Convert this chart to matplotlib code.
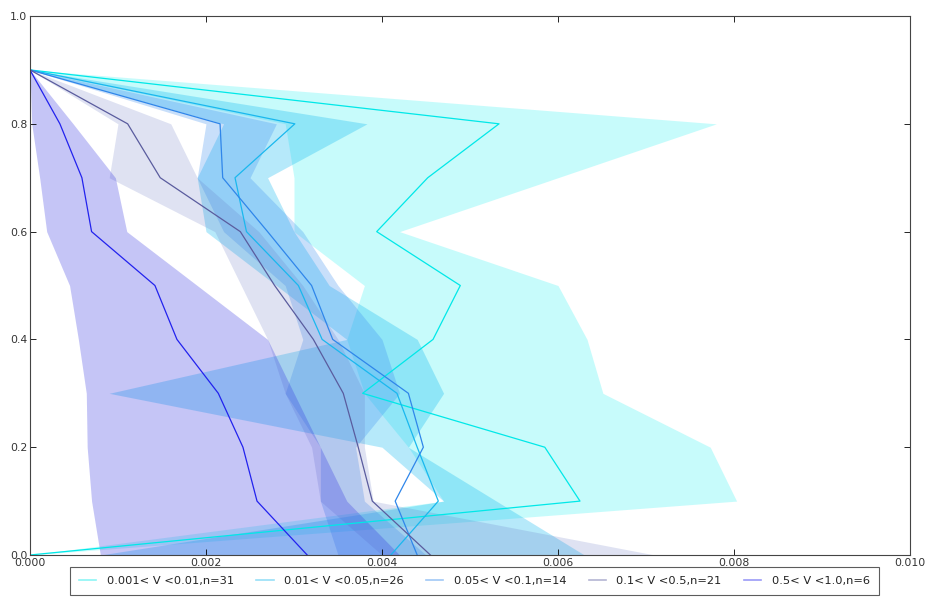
import matplotlib
matplotlib.use('Agg')
import matplotlib.pyplot as plt
from matplotlib.lines import Line2D

# fraction levels (y) shared by all groups
levels = [0.9, 0.8, 0.7, 0.6, 0.5, 0.4, 0.3, 0.2, 0.1, 0.0]

labels = ['0.001< V <0.01,n=31', '0.01< V <0.05,n=26', '0.05< V <0.1,n=14',
          '0.1< V <0.5,n=21', '0.5< V <1.0,n=6']

# group 1
mean1 = [0, 0.00533, 0.00452, 0.00394, 0.00489, 0.00458, 0.00378, 0.00585, 0.00625, 0]
lo1 = [0, 0.0029, 0.0030, 0.0030, 0.0038, 0.0036, 0.0038, 0.0043, 0.0047, 0]
hi1 = [0, 0.0078, 0.0060, 0.0042, 0.0060, 0.00633, 0.00651, 0.00773, 0.00803, 0]
# group 2
mean2 = [0, 0.00301, 0.00233, 0.00246, 0.00305, 0.00332, 0.00417, 0.00440, 0.00464, 0.0041]
lo2 = [0, 0.0022, 0.0019, 0.0020, 0.0028, 0.0036, 0.0009, 0.0040, 0.0047, 0.0008]
hi2 = [0, 0.00383, 0.0027, 0.0030, 0.0034, 0.0044, 0.0047, 0.0043, 0.0053, 0.0063]
# group 3
mean3 = [0, 0.00216, 0.00219, 0.00270, 0.0032, 0.00344, 0.0043, 0.00447, 0.00415, 0.0044]
lo3 = [0, 0.0020, 0.0019, 0.0022, 0.0029, 0.0031, 0.0029, 0.0033, 0.0033, 0.0035]
hi3 = [0, 0.0028, 0.0025, 0.0031, 0.0035, 0.0040, 0.0042, 0.0037, 0.0038, 0.0045]
# group 4
mean4 = [0, 0.00111, 0.00148, 0.00239, 0.00278, 0.00322, 0.00356, 0.00373, 0.00389, 0.00455]
lo4 = [0, 0.0010, 0.0009, 0.0021, 0.0024, 0.0027, 0.0029, 0.0032, 0.0033, 0.0040]
hi4 = [0, 0.0016, 0.0019, 0.0026, 0.0031, 0.0035, 0.0038, 0.0038, 0.0039, 0.0071]
# group 5
mean5 = [0, 0.00034, 0.00059, 0.00070, 0.00142, 0.00167, 0.00214, 0.00242, 0.00258, 0.00315]
lo5 = [0, 0.00002, 0.00011, 0.00019, 0.00045, 0.00055, 0.00064, 0.00065, 0.00070, 0.00080]
hi5 = [0, 0.00049, 0.00097, 0.0011, 0.0019, 0.0027, 0.0030, 0.0033, 0.0036, 0.0042]

means = [mean1, mean2, mean3, mean4, mean5]
lows = [lo1, lo2, lo3, lo4, lo5]
highs = [hi1, hi2, hi3, hi4, hi5]
line_cols = ['#00e8e8', '#1ab8ee', '#2f86ea', '#5a5c9e', '#2222ee']
fill_cols = ['#00f0f0', '#10b8f0', '#3a8cf0', '#6070c0', '#3030e0']
fill_alpha = [0.22, 0.3, 0.28, 0.2, 0.28]

fig = plt.figure(figsize=(9.25, 5.98), dpi=100)
ax = fig.add_axes([0.0324, 0.0719, 0.9514, 0.9013])

for i in range(5):
    ax.fill_betweenx(levels, lows[i], highs[i], color=fill_cols[i],
                     alpha=fill_alpha[i], linewidth=0)
for i in range(5):
    ax.plot(means[i], levels, color=line_cols[i], linewidth=0.9)

ax.set_xlim(0, 0.010)
ax.set_ylim(0, 1.0)
ax.set_xticks([0, 0.002, 0.004, 0.006, 0.008, 0.010])
ax.set_xticklabels(['0.000', '0.002', '0.004', '0.006', '0.008', '0.010'])
ax.set_yticks([0, 0.2, 0.4, 0.6, 0.8, 1.0])
ax.set_yticklabels(['0.0', '0.2', '0.4', '0.6', '0.8', '1.0'])
ax.tick_params(direction='in', top=True, right=True, labelsize=7.8,
               labelcolor='#333333', length=4, width=0.6, pad=2)
for s in ax.spines.values():
    s.set_linewidth(0.8)
    s.set_color('#444444')

handles = [Line2D([], [], color=line_cols[i], alpha=0.45, linewidth=1.2) for i in range(5)]
leg = ax.legend(handles, labels, loc='upper center', bbox_to_anchor=(0.505, -0.022),
                ncol=5, fontsize=8.2, frameon=True, fancybox=False,
                handlelength=1.5, columnspacing=2.0, borderpad=0.8,
                handletextpad=0.9, borderaxespad=0)
leg.get_frame().set_edgecolor('#333333')
leg.get_frame().set_linewidth(0.8)
for t in leg.get_texts():
    t.set_color('#222222')

fig.savefig('out.png', dpi=100)
